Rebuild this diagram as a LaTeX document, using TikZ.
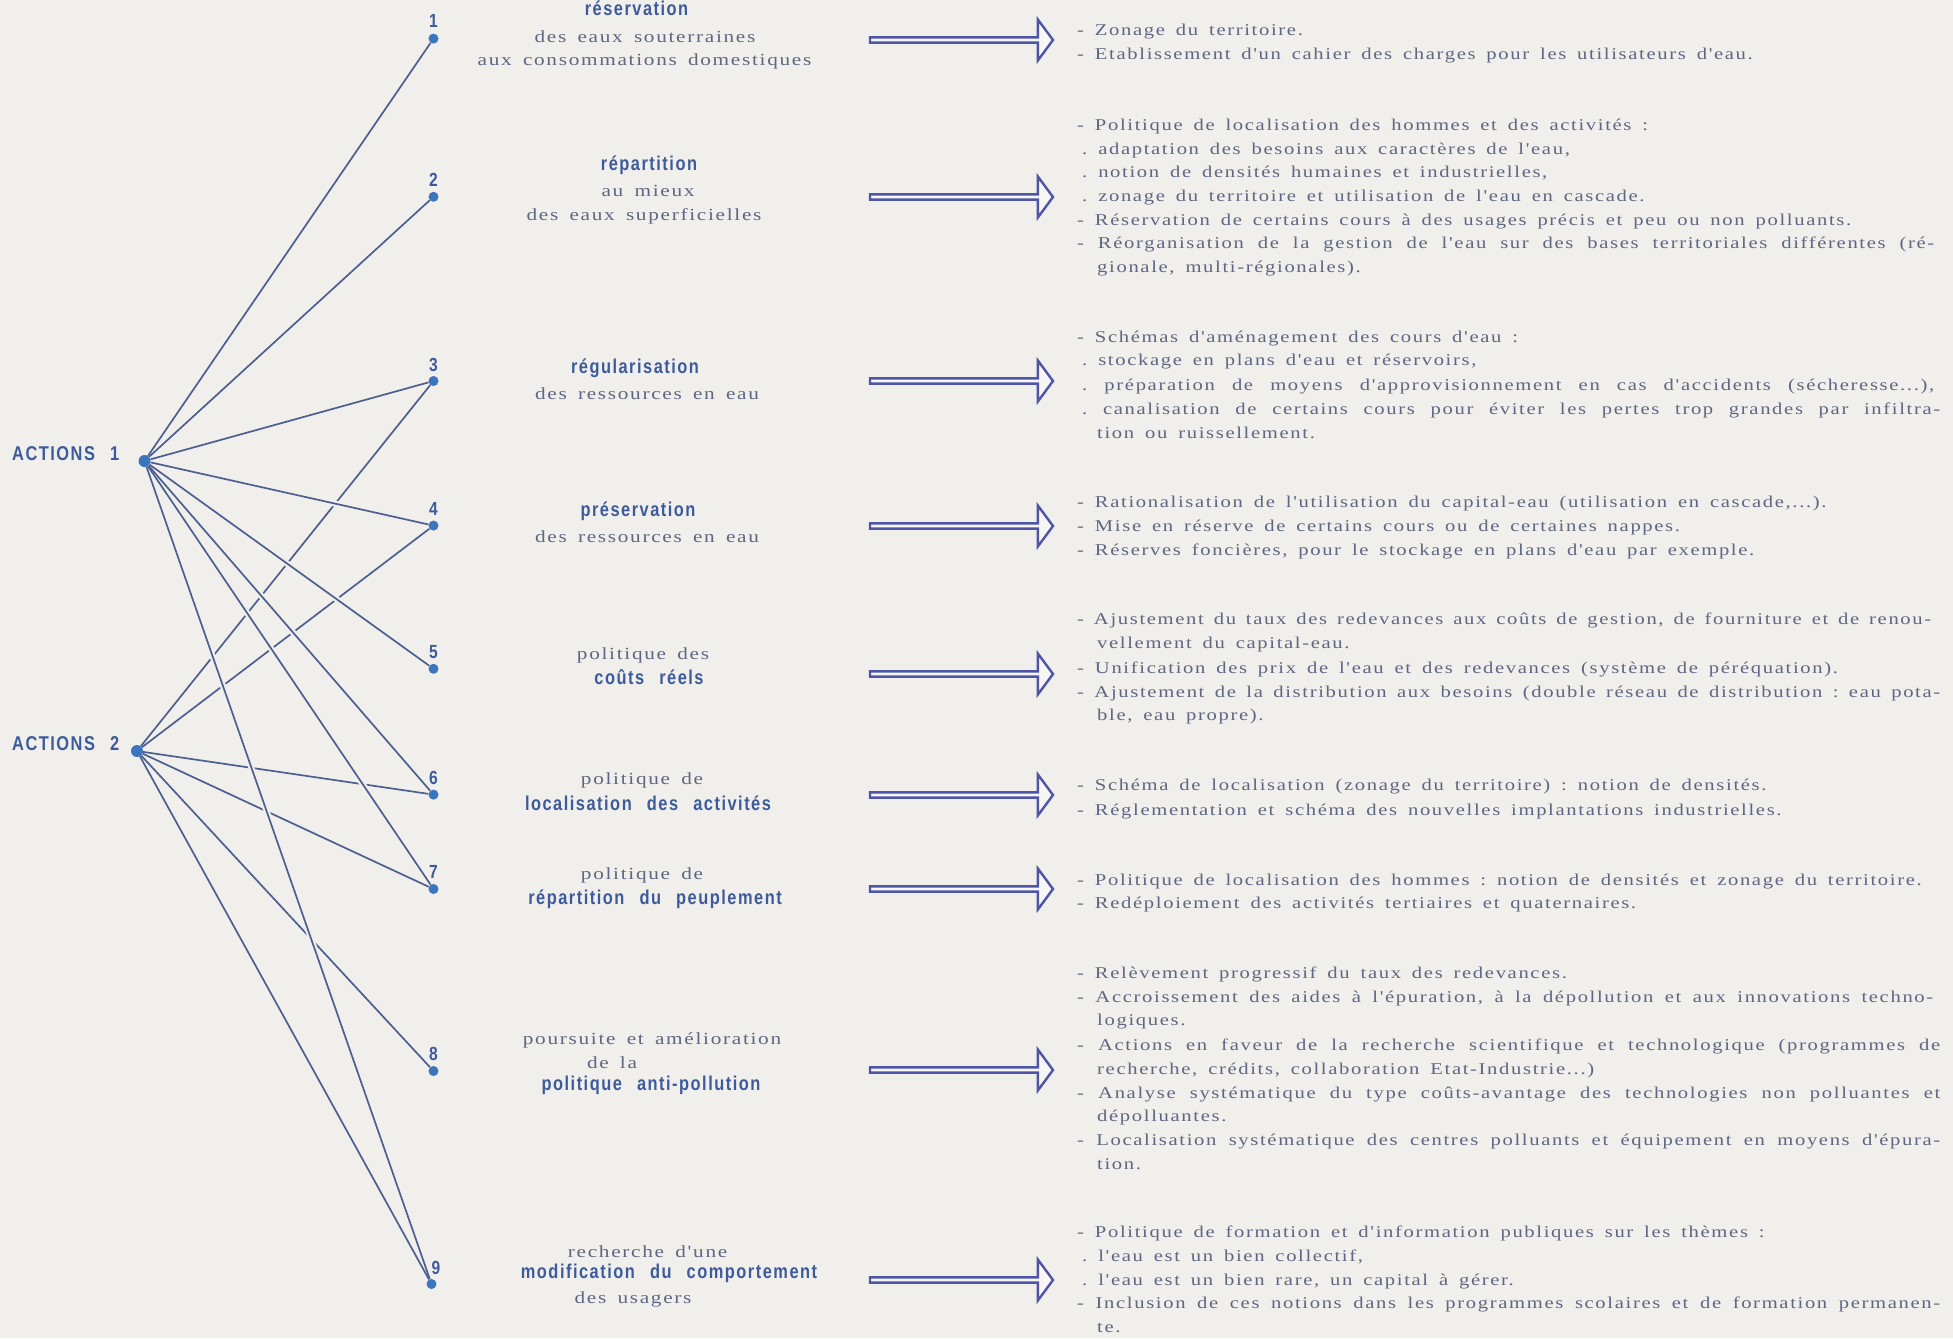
\documentclass[tikz,border=0pt]{standalone}
\usepackage{fontspec}
\usetikzlibrary{shapes.arrows}

% Typefaces: a wide, spaced serif for the running text, a narrow bold sans for the headings
\newfontfamily\bodyfont[FakeStretch=1.25,LetterSpace=10,WordSpace=1.6]{Liberation Serif}
\newfontfamily\headfont[FakeStretch=0.82,LetterSpace=7.5,WordSpace=2.5]{Liberation Sans}
\frenchspacing

\definecolor{paper}{HTML}{F1EFEB}
\definecolor{linkblue}{HTML}{4C5F90}
\definecolor{dotblue}{HTML}{3B75BD}
\definecolor{headblue}{HTML}{3D5B9B}
\definecolor{bodygrey}{HTML}{5E6682}
\definecolor{arrowblue}{HTML}{4F55A6}
\definecolor{arrowfill}{HTML}{F7F6F4}

% a justified line of given width
\newcommand\jline[2]{\makebox[#1pt][s]{#2}}

\tikzset{
  rtext/.style={font=\bodyfont\fontsize{16.5}{20}\selectfont, text=bodygrey, anchor=mid west, inner sep=0pt},
  mtext/.style={font=\bodyfont\fontsize{17}{21}\selectfont, text=bodygrey, anchor=mid, inner sep=0pt},
  mhead/.style={font=\headfont\bfseries\fontsize{20}{23}\selectfont, text=headblue, anchor=mid, inner sep=0pt},
  actlab/.style={font=\headfont\bfseries\fontsize{20}{23}\selectfont, text=headblue, anchor=mid west, inner sep=0pt},
  numlab/.style={font=\headfont\bfseries\fontsize{19}{22}\selectfont, text=headblue, anchor=center, inner sep=0pt},
  bigdot/.style={circle, fill=dotblue, minimum size=12pt, inner sep=0pt},
  smalldot/.style={circle, fill=dotblue, minimum size=10pt, inner sep=0pt},
  link/.style={draw=linkblue, line width=1.7pt},
  bridge/.style={draw=paper, line width=6pt, shorten <=20pt, shorten >=30pt},
  blockarrow/.style={single arrow, draw=arrowblue, fill=arrowfill, line width=2.4pt,
    minimum height=183pt, minimum width=41pt, single arrow head extend=8pt,
    single arrow tip angle=107, inner sep=0pt, outer sep=0pt, anchor=tail},
}

\begin{document}
\begin{tikzpicture}[x=1pt,y=-1pt]
\fill[paper] (0,0) rectangle (1953,1338);
\useasboundingbox (0,0) rectangle (1953,1338);

% the two families of actions
\node[actlab] (act1) at (12,458) {ACTIONS 1};
\node[actlab] (act2) at (12,748.5) {ACTIONS 2};
\node[bigdot] (a1) at (144.5,461) {};
\node[bigdot] (a2) at (137,751) {};

% the nine measures
\node[smalldot] (n1) at (433.5,38.6) {};
\node[smalldot] (n2) at (433.5,196.8) {};
\node[smalldot] (n3) at (433.5,381) {};
\node[smalldot] (n4) at (433.5,525.6) {};
\node[smalldot] (n5) at (433.5,668.8) {};
\node[smalldot] (n6) at (433.5,794.6) {};
\node[smalldot] (n7) at (433.5,889) {};
\node[smalldot] (n8) at (433.5,1071) {};
\node[smalldot] (n9) at (431.5,1284) {};
\node[numlab] (l1) at (433.5,21) {1};
\node[numlab] (l2) at (433.5,180) {2};
\node[numlab] (l3) at (433.5,364.5) {3};
\node[numlab] (l4) at (433.5,509) {4};
\node[numlab] (l5) at (433.5,652) {5};
\node[numlab] (l6) at (433.5,778) {6};
\node[numlab] (l7) at (433.5,872) {7};
\node[numlab] (l8) at (433.5,1054) {8};
\node[numlab] (l9) at (436,1267.5) {9};

% links: the second family passes beneath the first
\foreach \k in {3,4,6,7,8,9} \draw[link] (a2) -- (n\k);
\foreach \k in {1,2,3,4,5,6,7,9} \draw[bridge] (a1) -- (n\k);
\foreach \k in {1,2,3,4,5,6,7,9} \draw[link] (a1) -- (n\k);

% titles of the measures
\node[mhead] (m1a) at (636.5,13.7) {réservation};
\node[mtext] (m1b) at (645,39.9) {des eaux souterraines};
\node[mtext] (m1c) at (644.5,63.5) {aux consommations domestiques};
\node[mhead] (m2a) at (649,168) {répartition};
\node[mtext] (m2b) at (648,194) {au mieux};
\node[mtext] (m2c) at (644,218) {des eaux superficielles};
\node[mhead] (m3a) at (635,371) {régularisation};
\node[mtext] (m3b) at (647,397) {des ressources en eau};
\node[mhead] (m4a) at (638,514) {préservation};
\node[mtext] (m4b) at (647,540.5) {des ressources en eau};
\node[mtext] (m5a) at (643,657.6) {politique des};
\node[mhead] (m5b) at (649,682.5) {coûts réels};
\node[mtext] (m6a) at (642,782) {politique de};
\node[mhead] (m6b) at (648,808) {localisation des activités};
\node[mtext] (m7a) at (642,877) {politique de};
\node[mhead] (m7b) at (655,902) {répartition du peuplement};
\node[mtext] (m8a) at (652,1042.5) {poursuite et amélioration};
\node[mtext] (m8b) at (612,1066) {de la};
\node[mhead] (m8c) at (651,1088.6) {politique anti-pollution};
\node[mtext] (m9a) at (647.6,1255.5) {recherche d'une};
\node[mhead] (m9b) at (669,1276.6) {modification du comportement};
\node[mtext] (m9c) at (633,1301.5) {des usagers};

% block arrows
\node[blockarrow] (ar1) at (870,40) {};
\node[blockarrow] (ar2) at (870,197) {};
\node[blockarrow] (ar3) at (870,381) {};
\node[blockarrow] (ar4) at (870,526) {};
\node[blockarrow] (ar5) at (870,674) {};
\node[blockarrow] (ar6) at (870,795) {};
\node[blockarrow] (ar7) at (870,889) {};
\node[blockarrow] (ar8) at (870,1070) {};
\node[blockarrow] (ar9) at (870,1280) {};

% means of action
\node[rtext] (r1a) at (1077,33.6) {- Zonage du territoire.};
\node[rtext] (r1b) at (1077,57.3) {- Etablissement d'un cahier des charges pour les utilisateurs d'eau.};

\node[rtext] (r2a) at (1077,128.3) {- Politique de localisation des hommes et des activités :};
\node[rtext] (r2b) at (1082,152) {. adaptation des besoins aux caractères de l'eau,};
\node[rtext] (r2c) at (1082,175.6) {. notion de densités humaines et industrielles,};
\node[rtext] (r2d) at (1082,199.3) {. zonage du territoire et utilisation de l'eau en cascade.};
\node[rtext] (r2e) at (1077,223) {- Réservation de certains cours à des usages précis et peu ou non polluants.};
\node[rtext] (r2f) at (1077,246.6) {\jline{857}{- Réorganisation de la gestion de l'eau sur des bases territoriales différentes (ré-}};
\node[rtext] (r2g) at (1097,270.3) {gionale, multi-régionales).};

\node[rtext] (r3a) at (1077,340) {- Schémas d'aménagement des cours d'eau :};
\node[rtext] (r3b) at (1082,363.7) {. stockage en plans d'eau et réservoirs,};
\node[rtext] (r3c) at (1082,388.6) {\jline{852}{. préparation de moyens d'approvisionnement en cas d'accidents (sécheresse...),}};
\node[rtext] (r3d) at (1082,412) {\jline{858}{. canalisation de certains cours pour éviter les pertes trop grandes par infiltra-}};
\node[rtext] (r3e) at (1097,436) {tion ou ruissellement.};

\node[rtext] (r4a) at (1077,505.7) {- Rationalisation de l'utilisation du capital-eau (utilisation en cascade,...).};
\node[rtext] (r4b) at (1077,529) {- Mise en réserve de certains cours ou de certaines nappes.};
\node[rtext] (r4c) at (1077,553) {- Réserves foncières, pour le stockage en plans d'eau par exemple.};

\node[rtext] (r5a) at (1077,622.7) {\jline{854}{- Ajustement du taux des redevances aux coûts de gestion, de fourniture et de renou-}};
\node[rtext] (r5b) at (1097,646.4) {vellement du capital-eau.};
\node[rtext] (r5c) at (1077,671.3) {- Unification des prix de l'eau et des redevances (système de péréquation).};
\node[rtext] (r5d) at (1077,695) {\jline{863}{- Ajustement de la distribution aux besoins (double réseau de distribution : eau pota-}};
\node[rtext] (r5e) at (1097,718.7) {ble, eau propre).};

\node[rtext] (r6a) at (1077,788.4) {- Schéma de localisation (zonage du territoire) : notion de densités.};
\node[rtext] (r6b) at (1077,813.3) {- Réglementation et schéma des nouvelles implantations industrielles.};

\node[rtext] (r7a) at (1077,883) {- Politique de localisation des hommes : notion de densités et zonage du territoire.};
\node[rtext] (r7b) at (1077,906.7) {- Redéploiement des activités tertiaires et quaternaires.};

\node[rtext] (r8a) at (1077,976.5) {- Relèvement progressif du taux des redevances.};
\node[rtext] (r8b) at (1077,1000) {\jline{856}{- Accroissement des aides à l'épuration, à la dépollution et aux innovations techno-}};
\node[rtext] (r8c) at (1097,1023.8) {logiques.};
\node[rtext] (r8d) at (1077,1048.7) {\jline{863}{- Actions en faveur de la recherche scientifique et technologique (programmes de}};
\node[rtext] (r8e) at (1097,1072.4) {recherche, crédits, collaboration Etat-Industrie...)};
\node[rtext] (r8f) at (1077,1096) {\jline{863}{- Analyse systématique du type coûts-avantage des technologies non polluantes et}};
\node[rtext] (r8g) at (1097,1119.7) {dépolluantes.};
\node[rtext] (r8h) at (1077,1143.4) {\jline{863}{- Localisation systématique des centres polluants et équipement en moyens d'épura-}};
\node[rtext] (r8i) at (1097,1167) {tion.};

\node[rtext] (r9a) at (1077,1235.5) {- Politique de formation et d'information publiques sur les thèmes :};
\node[rtext] (r9b) at (1082,1259) {. l'eau est un bien collectif,};
\node[rtext] (r9c) at (1082,1282.9) {. l'eau est un bien rare, un capital à gérer.};
\node[rtext] (r9d) at (1077,1306.5) {\jline{863}{- Inclusion de ces notions dans les programmes scolaires et de formation permanen-}};
\node[rtext] (r9e) at (1097,1330) {te.};
\end{tikzpicture}
\end{document}
